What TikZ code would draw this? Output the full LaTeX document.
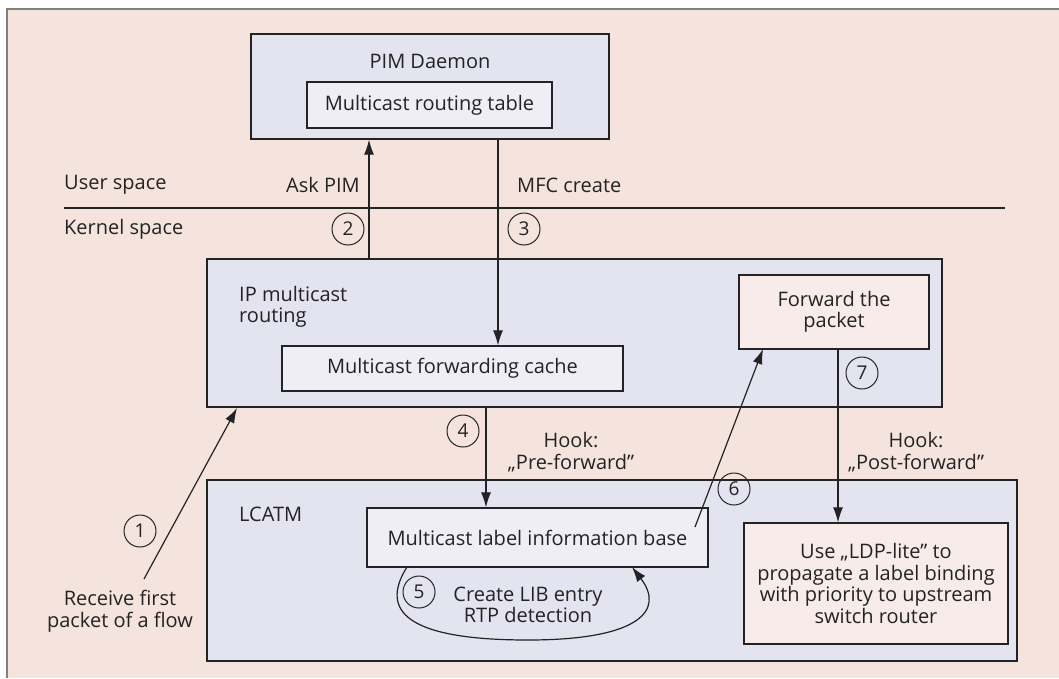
\documentclass[tikz,border=0pt]{standalone}
\usepackage{fontspec}
\setmainfont{Open Sans}
\usetikzlibrary{arrows.meta}
\definecolor{bgpink}{RGB}{245,228,221}
\definecolor{lav}{RGB}{228,227,240}
\definecolor{lavlight}{RGB}{239,238,246}
\definecolor{pinklight}{RGB}{248,236,234}
\definecolor{ink}{RGB}{35,35,35}
\begin{document}
\begin{tikzpicture}[x=1pt,y=-1pt,
  every node/.style={font=\fontsize{20}{21.5}\selectfont, text=ink, inner sep=0pt},
  outerbox/.style={draw=ink, line width=1.3pt, fill=lav},
  innerbox/.style={draw=ink, line width=1.3pt, fill=lavlight},
  pinkbox/.style={draw=ink, line width=1.3pt, fill=pinklight},
  num/.style={draw=ink, circle, line width=1pt, minimum size=32pt, font=\fontsize{19}{19}\selectfont},
  arr/.style={draw=ink, line width=1.2pt, -{Latex[length=15pt,width=10pt]}},
  lbl/.style={align=center}
]
\useasboundingbox (0,0) rectangle (1059,678);
\fill[white] (0,0) rectangle (1059,678);
\fill[bgpink] (7,9) rectangle (1059,678);
\draw[gray, line width=1.2pt] (7,678) -- (7,9) -- (1059,9);

% boxes
\node[outerbox, minimum width=358pt, minimum height=105pt] (pim) at (430,86.5) {};
\node at (430,61) {PIM Daemon};
\node[innerbox, minimum width=245pt, minimum height=46pt] (mrt) at (429.5,105) {Multicast routing table};

\node[outerbox, minimum width=735pt, minimum height=148pt] (ip) at (574.5,333) {};
\node[anchor=west, align=left] (iptxt) at (239,307) {IP multicast\\routing};
\node[pinkbox, minimum width=190pt, minimum height=74pt, align=center] (fwd) at (834,312) {Forward the\\packet};
\node[innerbox, minimum width=341pt, minimum height=45pt] (mfc) at (452.5,368.5) {Multicast forwarding cache};

\node[outerbox, minimum width=810pt, minimum height=181pt] (lc) at (612,570.5) {};
\node[anchor=west] (lctxt) at (239,514) {LCATM};
\node[innerbox, minimum width=341pt, minimum height=59pt] (lib) at (537.5,537.5) {Multicast label information base};
\node[pinkbox, minimum width=264pt, minimum height=121pt, align=center] (ldp) at (876,583.5) {Use „LDP-lite" to\\propagate a label binding\\with priority to upstream\\switch router};

% separator
\coordinate (sepL) at (64,208);
\coordinate (sepR) at (1005,208);
\draw[ink, line width=1.2pt] (sepL) -- (sepR);
\node[anchor=west] (us) at (64,185) {User space};
\node[anchor=west] (ks) at (64,229) {Kernel space};

% x positions
\coordinate (x2) at (369,0);
\coordinate (x3) at (498,0);
\coordinate (x4) at (486,0);
\coordinate (x7) at (838,0);

\draw[arr] (ip.north -| x2) -- (pim.south -| x2);
\node[anchor=east] (askpim) at (360,185) {Ask PIM};
\node[num] (n2) at (348,229) {2};

\draw[arr] (pim.south -| x3) -- (mfc.north -| x3);
\node[anchor=west] (mfccr) at (517,185) {MFC create};
\node[num] (n3) at (524,229) {3};

\draw[arr] (ip.south -| x4) -- (lib.north -| x4);
\node[num] (n4) at (463,431) {4};
\node[lbl] (hook1) at (571,452) {Hook:\\„Pre-forward"};

\draw[arr] (fwd.south -| x7) -- (ldp.north -| x7);
\node[num] (n7) at (862,373) {7};
\node[lbl] (hook2) at (916,452) {Hook:\\„Post-forward"};

\coordinate (s6) at (695,527);
\coordinate (e6) at (763,349);
\draw[arr] (s6) -- (e6);
\node[num] (n6) at (734,489) {6};

\coordinate (s1) at (144,579);
\coordinate (e1) at (237,408);
\draw[arr] (s1) -- (e1);
\node[num] (n1) at (140,531) {1};
\node[lbl] (recv) at (120,611) {Receive first\\packet of a flow};

\coordinate (s5) at (407,567);
\coordinate (m5) at (528,640);
\coordinate (e5) at (632,567);
\draw[arr] (s5) .. controls (383,605) and (395,640) .. (m5) .. controls (640,640) and (665,610) .. (e5);
\node[num] (n5) at (419,592) {5};
\node[lbl] (create) at (528,605) {Create LIB entry\\RTP detection};
\end{tikzpicture}
\end{document}
